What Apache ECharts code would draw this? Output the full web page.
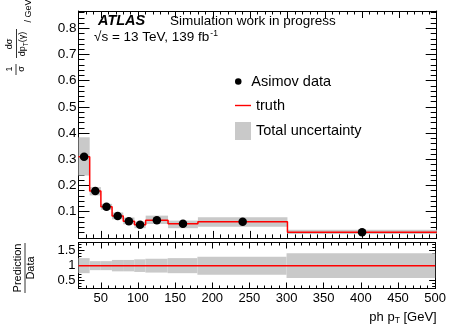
<!DOCTYPE html>
<html><head><meta charset="utf-8">
<script src="https://cdn.jsdelivr.net/npm/echarts@6/dist/echarts.min.js"></script>
<style>html,body{margin:0;padding:0;background:#fff}#c{width:449px;height:325px}</style>
</head><body><div id="c"></div>
<script>
// ---- data ----
const binEdges    = [20, 35, 50, 65, 80, 95, 110, 140, 180, 300, 500];
const binCenters  = [27.5, 42.5, 57.5, 72.5, 87.5, 102.5, 125, 160, 240, 400];
const asimovData  = [0.310, 0.179, 0.119, 0.084, 0.064, 0.050, 0.067, 0.054, 0.062, 0.022];
const truthValues = [0.310, 0.179, 0.119, 0.084, 0.064, 0.050, 0.067, 0.054, 0.062, 0.022];
const uncLow      = [0.238, 0.162, 0.107, 0.071, 0.052, 0.037, 0.053, 0.037, 0.043, 0.015];
const uncHigh     = [0.384, 0.194, 0.130, 0.097, 0.078, 0.062, 0.085, 0.066, 0.079, 0.031];
const ratioRelUnc = [0.25, 0.15, 0.15, 0.19, 0.19, 0.21, 0.23, 0.25, 0.30, 0.41];

const FONT = 'Liberation Sans, Arial, sans-serif';

function stepData(vals) {
  const out = [];
  for (let i = 0; i < vals.length; i++) {
    out.push([binEdges[i], vals[i]]);
    out.push([binEdges[i + 1], vals[i]]);
  }
  return out;
}
const ratioValues = truthValues.map((t, i) => t / asimovData[i]);
const bandMain = asimovData.map((v, i) => [binEdges[i], binEdges[i + 1], uncLow[i], uncHigh[i]]);
const bandRatio = ratioValues.map((r, i) => [binEdges[i], binEdges[i + 1], r - ratioRelUnc[i], r + ratioRelUnc[i]]);

function bandRender(params, api) {
  const p0 = api.coord([api.value(0), api.value(3)]);
  const p1 = api.coord([api.value(1), api.value(2)]);
  return {
    type: 'rect',
    shape: { x: p0[0], y: p0[1], width: p1[0] - p0[0], height: p1[1] - p0[1] },
    style: { fill: api.visual('color') }
  };
}

const GRID_LEFT = 78.5, GRID_W = 358.2;

function xAx(grid, pos, labels, majLen, minLen) {
  return {
    type: 'value', gridIndex: grid, position: pos, min: 20, max: 500, splitNumber: 10,
    axisLine: { show: true, onZero: false, lineStyle: { color: '#000', width: 1 } },
    axisTick: { show: true, inside: true, length: majLen, lineStyle: { color: '#000' } },
    minorTick: { show: true, splitNumber: 5, length: minLen, lineStyle: { color: '#000' } },
    splitLine: { show: false },
    axisLabel: { show: labels, showMinLabel: false, margin: 3, color: '#000', fontSize: 13, fontFamily: FONT }
  };
}
function yAxMain(pos, labels) {
  return {
    type: 'value', gridIndex: 0, position: pos, min: 0, max: 0.866, interval: 0.1,
    axisLine: { show: true, onZero: false, lineStyle: { color: '#000', width: 1 } },
    axisTick: { show: true, inside: true, length: 11, lineStyle: { color: '#000' } },
    minorTick: { show: true, splitNumber: 5, length: 6, lineStyle: { color: '#000' } },
    splitLine: { show: false },
    axisLabel: { show: labels, showMinLabel: false, showMaxLabel: false, margin: 2, color: '#000', fontSize: 13.5, fontFamily: FONT }
  };
}
function yAxRatio(pos, labels) {
  return {
    type: 'value', gridIndex: 1, position: pos, min: 0.24, max: 1.77, splitNumber: 3,
    axisLine: { show: true, onZero: false, lineStyle: { color: '#000', width: 1 } },
    axisTick: { show: true, inside: true, length: 6, lineStyle: { color: '#000' } },
    minorTick: { show: true, splitNumber: 5, length: 3, lineStyle: { color: '#000' } },
    splitLine: { show: false },
    axisLabel: { show: labels, showMinLabel: false, showMaxLabel: false, margin: 3, color: '#000', fontSize: 13, fontFamily: FONT }
  };
}

const legendBase = {
  orient: 'vertical', left: 235, padding: 0, selectedMode: false,
  textStyle: { color: '#000', fontSize: 14.5, fontFamily: FONT }
};

const option = {
  animation: false,
  backgroundColor: '#fff',
  grid: [
    { left: GRID_LEFT, width: GRID_W, top: 11, height: 226.9 },
    { left: GRID_LEFT, width: GRID_W, top: 242.5, height: 46 }
  ],
  xAxis: [
    xAx(0, 'bottom', false, 7, 3.5),
    xAx(0, 'top', false, 7, 3.5),
    xAx(1, 'bottom', true, 6, 3),
    xAx(1, 'top', false, 6, 3)
  ],
  yAxis: [
    yAxMain('left', true),
    yAxMain('right', false),
    yAxRatio('left', true),
    yAxRatio('right', false)
  ],
  legend: [
    Object.assign({}, legendBase, { top: 74, itemWidth: 16, itemHeight: 6.5, data: [{ name: 'Asimov data', icon: 'circle' }] }),
    Object.assign({}, legendBase, { top: 98, itemWidth: 16, itemHeight: 1.4, data: [{ name: 'truth', icon: 'rect' }] }),
    Object.assign({}, legendBase, { top: 122, itemWidth: 16, itemHeight: 18, data: [{ name: 'Total uncertainty', icon: 'rect' }] })
  ],
  series: [
    {
      name: 'Total uncertainty', type: 'custom', xAxisIndex: 0, yAxisIndex: 0,
      renderItem: bandRender, data: bandMain, encode: { x: [0, 1], y: [2, 3] },
      itemStyle: { color: '#c9c9c9' }, z: 1
    },
    {
      name: 'truth', type: 'line', xAxisIndex: 0, yAxisIndex: 0, data: stepData(truthValues),
      symbol: 'none', showSymbol: false, lineStyle: { color: '#ff0000', width: 1.5 }, itemStyle: { color: '#ff0000' }, z: 3
    },
    {
      name: 'Asimov data', type: 'scatter', xAxisIndex: 0, yAxisIndex: 0,
      data: binCenters.map((c, i) => [c, asimovData[i]]),
      symbol: 'circle', symbolSize: 8.5, itemStyle: { color: '#000', opacity: 1 }, z: 4
    },
    {
      name: 'ratio unc', type: 'custom', xAxisIndex: 2, yAxisIndex: 2,
      renderItem: bandRender, data: bandRatio, encode: { x: [0, 1], y: [2, 3] },
      itemStyle: { color: '#c9c9c9' }, z: 1
    },
    {
      name: 'ratio', type: 'line', xAxisIndex: 2, yAxisIndex: 2, data: stepData(ratioValues),
      symbol: 'none', lineStyle: { color: '#ff0000', width: 1.5 }, z: 3
    }
  ],
  graphic: [
    { type: 'text', x: 98, y: 21, style: { text: 'ATLAS', fontSize: 14.5, fontWeight: 'bold', fontStyle: 'italic', fontFamily: FONT, fill: '#000', align: 'left', verticalAlign: 'middle' } },
    { type: 'text', x: 170, y: 21, style: { text: 'Simulation work in progress', fontSize: 13.5, fontFamily: FONT, fill: '#000', align: 'left', verticalAlign: 'middle' } },
    { type: 'text', x: 94, y: 37, style: {
        text: '√s = 13 TeV, 139 fb{sup|-1}', fontSize: 13.5, fontFamily: FONT, fill: '#000', align: 'left', verticalAlign: 'middle',
        rich: { sup: { fontSize: 8.5, fontFamily: FONT, fill: '#000', verticalAlign: 'top', padding: [0, 0, 7, 1] } }
    } },
    { type: 'text', x: 436.7, y: 317, style: {
        text: 'ph p{sub|T} [GeV]', fontSize: 13, fontFamily: FONT, fill: '#000', align: 'right', verticalAlign: 'middle',
        rich: { sub: { fontSize: 8.5, fontFamily: FONT, fill: '#000', padding: [7, 0, 0, 0] } }
    } },
    {
      type: 'group', x: 0, y: 80, rotation: Math.PI / 2,
      children: [
        { type: 'text', x: 11, y: 10, style: { text: '1', fontSize: 9, fontFamily: FONT, fill: '#000', align: 'center', verticalAlign: 'middle' } },
        { type: 'line', shape: { x1: 5, y1: 16, x2: 16, y2: 16 }, style: { stroke: '#000', lineWidth: 0.8 } },
        { type: 'text', x: 11, y: 22, style: { text: 'σ', fontSize: 9, fontFamily: FONT, fill: '#000', align: 'center', verticalAlign: 'middle' } },
        { type: 'text', x: 36, y: 10, style: { text: 'dσ', fontSize: 9, fontFamily: FONT, fill: '#000', align: 'center', verticalAlign: 'middle' } },
        { type: 'line', shape: { x1: 22, y1: 16.5, x2: 51, y2: 16.5 }, style: { stroke: '#000', lineWidth: 0.8 } },
        { type: 'text', x: 36, y: 23, style: {
            text: 'dp{s|T}(γ)', fontSize: 9, fontFamily: FONT, fill: '#000', align: 'center', verticalAlign: 'middle',
            rich: { s: { fontSize: 6.5, fontFamily: FONT, fill: '#000', padding: [6, 0, 0, 0] } }
        } },
        { type: 'text', x: 69, y: 29, style: { text: '/ GeV', fontSize: 9, fontFamily: FONT, fill: '#000', align: 'center', verticalAlign: 'middle' } }
      ]
    },
    {
      type: 'group', x: 0, y: 268, rotation: Math.PI / 2,
      children: [
        { type: 'text', x: 0, y: 18, style: { text: 'Prediction', fontSize: 11, fontFamily: FONT, fill: '#000', align: 'center', verticalAlign: 'middle' } },
        { type: 'line', shape: { x1: -25, y1: 25, x2: 25, y2: 25 }, style: { stroke: '#000', lineWidth: 0.8 } },
        { type: 'text', x: 0, y: 31, style: { text: 'Data', fontSize: 11, fontFamily: FONT, fill: '#000', align: 'center', verticalAlign: 'middle' } }
      ]
    }
  ]
};

const chart = echarts.init(document.getElementById('c'), null, { renderer: 'canvas' });
chart.setOption(option);
</script>
</body></html>
